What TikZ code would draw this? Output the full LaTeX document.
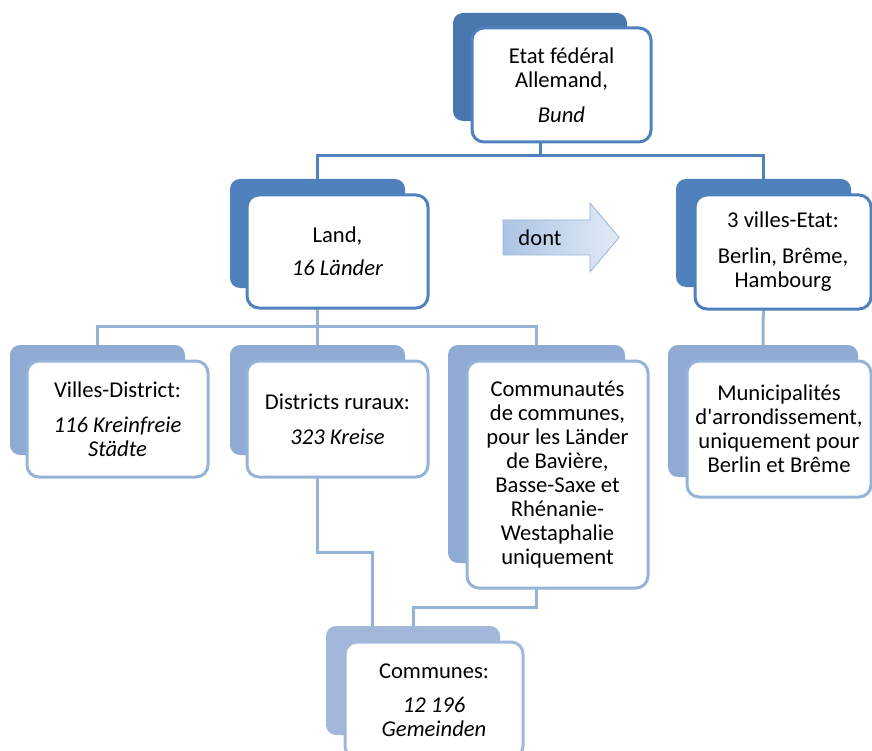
\documentclass[tikz,border=0pt]{standalone}
\usepackage{fontspec}
\setmainfont{Carlito}
\definecolor{topblue}{HTML}{4A76AE}
\definecolor{midblue}{HTML}{4F81BD}
\definecolor{lowblue}{HTML}{8FAAD3}
\definecolor{lineblue}{HTML}{95B3D7}
\definecolor{paleblue}{HTML}{A3B7DA}
\definecolor{arrowleft}{HTML}{ADC4E5}
\definecolor{arrowright}{HTML}{E2EBF6}

\begin{document}
\begin{tikzpicture}[x=1pt,y=-1pt,
  back/.style={rounded corners=10pt,inner sep=0pt},
  front/.style={draw,fill=white,rounded corners=12pt,line width=3pt,
    align=center,inner sep=0pt,font=\fontsize{22.6}{24}\selectfont},
  link/.style={line width=3pt}]

  \useasboundingbox (0,0) rectangle (872,751);
  \clip (0,0) rectangle (872,751);

  % shadows behind the boxes
  \node[back,fill=topblue,minimum width=174pt,minimum height=108pt] (bund-b) at (540,67) {};
  \node[back,fill=midblue,minimum width=175pt,minimum height=109pt] (land-b) at (317.5,233.5) {};
  \node[back,fill=midblue,minimum width=175pt,minimum height=108pt] (villes-b) at (763.5,233) {};
  \node[back,fill=lowblue,minimum width=175pt,minimum height=110pt] (vd-b) at (97.5,400) {};
  \node[back,fill=lowblue,minimum width=175pt,minimum height=110pt] (dist-b) at (317.5,400) {};
  \node[back,fill=lowblue,minimum width=177pt,minimum height=218pt] (comm-b) at (536.5,454) {};
  \node[back,fill=lowblue,minimum width=190pt,minimum height=132pt] (muni-b) at (763,411) {};
  \node[back,fill=paleblue,minimum width=174pt,minimum height=109pt] (communes-b) at (413,680.5) {};

  % connectors
  \draw[link,midblue] (bund-b.south) -- ++(0,34) -| (land-b.north);
  \draw[link,midblue] (bund-b.south) -- ++(0,34) -| (villes-b.north);
  \draw[link,lineblue] (land-b.south) -- ++(0,38) -| (vd-b.north);
  \draw[link,lineblue] (land-b.south) -- ++(0,38) -| (dist-b.north);
  \draw[link,lineblue] (land-b.south) -- ++(0,38) -| (comm-b.north);
  \draw[link,lineblue] (villes-b.south) -- (muni-b.north);
  \draw[link,lineblue] (dist-b.south) |- ([xshift=-41pt]communes-b.north |- 0,552)
    -- ([xshift=-41pt]communes-b.north);
  \draw[link,lineblue] (comm-b.south) -- ++(0,44) -| (communes-b.north);

  % boxes
  \node[front,draw=midblue,minimum width=179pt,minimum height=114pt] (bund) at (561.5,85)
    {Etat fédéral\\ Allemand,\\[11pt] \textit{Bund}};
  \node[front,draw=midblue,minimum width=181pt,minimum height=113pt] (land) at (337.5,251.5)
    {Land,\\[9pt] \textit{16 Länder}};
  \node[front,draw=midblue,minimum width=176pt,minimum height=114pt] (villes) at (783,252)
    {3 villes-Etat:\\[12pt] Berlin, Brême,\\ Hambourg};
  \node[front,draw=lineblue,minimum width=181pt,minimum height=116pt] (vd) at (117.5,419)
    {Villes-District:\\[11pt] \textit{116 Kreinfreie}\\ \textit{Städte}};
  \node[front,draw=lineblue,minimum width=181pt,minimum height=116pt] (dist) at (337.5,419)
    {Districts ruraux:\\[11pt] \textit{323 Kreise}};
  \node[front,draw=lineblue,minimum width=181pt,minimum height=227pt] (comm) at (557.5,474.5)
    {Communautés\\ de communes,\\ pour les Länder\\ de Bavière,\\ Basse-Saxe et\\ Rhénanie-\\ Westaphalie\\ uniquement};
  \node[front,draw=lineblue,minimum width=184pt,minimum height=136pt] (muni) at (779,429)
    {Municipalités\\ d\textquotesingle arrondissement,\\ uniquement pour\\ Berlin et Brême};
  \node[front,draw=paleblue,minimum width=178pt,minimum height=116pt] (communes) at (434,700)
    {Communes:\\[10pt] \textit{12 196}\\ \textit{Gemeinden}};

  % the "dont" arrow
  \shade[left color=arrowleft,right color=arrowright,draw=lineblue,line width=0.8pt]
    (503,220) -- (590,220) -- (590,203) -- (619,237.5) -- (590,272) -- (590,255)
    -- (503,255) -- cycle;
  \node[font=\fontsize{22.6}{24}\selectfont] (dont) at (540,238) {dont};
\end{tikzpicture}
\end{document}
